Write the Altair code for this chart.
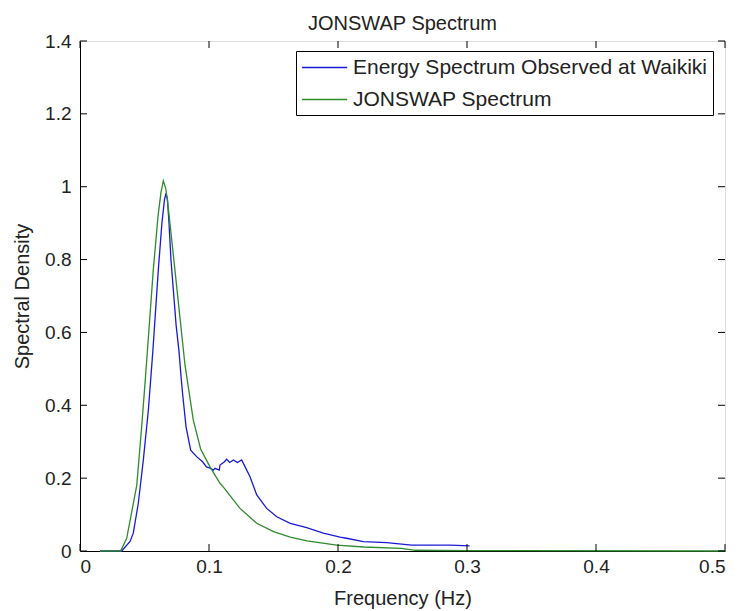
import altair as alt
import pandas as pd

# Observed spectrum at Waikiki (blue)
obs_f = [0.0155, 0.0323, 0.0388, 0.0413, 0.0452, 0.0491, 0.053, 0.0565, 0.0607, 0.0635, 0.0655,
         0.0667, 0.0678, 0.069, 0.0705, 0.0745, 0.0767, 0.0783, 0.0795, 0.0822, 0.0858, 0.0904, 0.095,
         0.098, 0.1005, 0.1034, 0.1047, 0.108, 0.1085, 0.112, 0.1137, 0.116, 0.1189, 0.122,
         0.1253, 0.128, 0.1318, 0.137, 0.1447, 0.1525, 0.163, 0.1757, 0.1886, 0.2016, 0.2067,
         0.2196, 0.2377, 0.257, 0.287, 0.302]
obs_v = [0.0, 0.0, 0.026, 0.049, 0.131, 0.25, 0.387, 0.55, 0.771, 0.90, 0.965,
         0.982, 0.965, 0.90, 0.80, 0.62, 0.55, 0.48, 0.433, 0.341, 0.277, 0.259, 0.245,
         0.231, 0.228, 0.222, 0.227, 0.222, 0.236, 0.245, 0.252, 0.243, 0.25, 0.243,
         0.25, 0.231, 0.204, 0.154, 0.117, 0.094, 0.076, 0.064, 0.049, 0.038, 0.035,
         0.026, 0.023, 0.016, 0.016, 0.014]

# JONSWAP model spectrum (green)
jon_f = [0.0155, 0.0315, 0.0362, 0.0413, 0.044, 0.0478, 0.0505, 0.0535, 0.0568, 0.0605, 0.0628,
         0.0646, 0.0665, 0.0685, 0.0736, 0.0775, 0.0814, 0.0878, 0.0935, 0.1008, 0.1085, 0.111,
         0.124, 0.137, 0.150, 0.163, 0.176, 0.199, 0.22, 0.249, 0.26, 0.3, 0.5]
jon_v = [0.0, 0.0, 0.035, 0.13, 0.18, 0.341, 0.465, 0.61, 0.771, 0.92, 0.985,
         1.016, 0.995, 0.94, 0.771, 0.64, 0.51, 0.36, 0.28, 0.231, 0.186, 0.176,
         0.117, 0.076, 0.053, 0.038, 0.028, 0.016, 0.011, 0.007, 0.002, 0.001, 0.0]

S_OBS = "Energy Spectrum Observed at Waikiki"
S_JON = "JONSWAP Spectrum"

x_ticks = [0, 0.1, 0.2, 0.3, 0.4, 0.5]
y_ticks = [0, 0.2, 0.4, 0.6, 0.8, 1.0, 1.2, 1.4]

rows = []
for i, (f, v) in enumerate(zip(obs_f, obs_v)):
    rows.append({"f": f, "v": v, "series": S_OBS, "i": i})
for i, (f, v) in enumerate(zip(jon_f, jon_v)):
    rows.append({"f": f, "v": v, "series": S_JON, "i": i})
df = pd.DataFrame(rows)

W, H = 645, 510
FONT = "Liberation Sans"
TXT = "#222222"

xscale = alt.Scale(domain=[0, 0.5], nice=False, zero=False)
yscale = alt.Scale(domain=[0, 1.4], nice=False, zero=False)

lines = alt.Chart(df).mark_line(strokeWidth=1.3).encode(
    x=alt.X("f:Q", scale=xscale,
            axis=alt.Axis(title="Frequency (Hz)", values=x_ticks, format="~g",
                          ticks=False, grid=False, domainColor="black",
                          labelFontSize=19, titleFontSize=20, labelPadding=6,
                          titlePadding=12, titleFontWeight="normal",
                          labelColor=TXT, titleColor=TXT, labelFont=FONT, titleFont=FONT)),
    y=alt.Y("v:Q", scale=yscale,
            axis=alt.Axis(title="Spectral Density", values=y_ticks, format="~g",
                          ticks=False, grid=False, domainColor="black",
                          labelFontSize=19, titleFontSize=20, labelPadding=9,
                          titlePadding=12, titleFontWeight="normal",
                          labelColor=TXT, titleColor=TXT, labelFont=FONT, titleFont=FONT)),
    color=alt.Color("series:N",
                    scale=alt.Scale(domain=[S_OBS, S_JON], range=["#1a1ad6", "#2e8b2e"]),
                    legend=alt.Legend(title=None, orient="none", legendX=216, legendY=10,
                                      symbolType="M-1,0H3.3", symbolSize=441,
                                      symbolStrokeWidth=1.3,
                                      labelFontSize=21, labelFont=FONT, labelColor=TXT,
                                      fillColor="white", strokeColor="black", padding=5,
                                      rowPadding=10, labelOffset=29, labelLimit=600)),
    order="i:Q",
)

xt = pd.DataFrame({"t": x_ticks})
yt = pd.DataFrame({"t": y_ticks})
TL = 7
xb = alt.Chart(xt).mark_rule(color="black").encode(
    x=alt.X("t:Q", scale=xscale), y=alt.value(H), y2=alt.value(H - TL))
xtop = alt.Chart(xt).mark_rule(color="black").encode(
    x=alt.X("t:Q", scale=xscale), y=alt.value(0), y2=alt.value(TL))
yl = alt.Chart(yt).mark_rule(color="black").encode(
    y=alt.Y("t:Q", scale=yscale), x=alt.value(0), x2=alt.value(TL))
yr = alt.Chart(yt).mark_rule(color="black").encode(
    y=alt.Y("t:Q", scale=yscale), x=alt.value(W), x2=alt.value(W - TL))

chart = alt.layer(lines, xb, xtop, yl, yr).properties(
    width=W, height=H,
    autosize=alt.AutoSizeParams(type="none"),
    padding={"left": 80, "top": 41, "right": 15, "bottom": 60},
    title=alt.TitleParams("JONSWAP Spectrum", fontSize=20, fontWeight="normal",
                          font=FONT, color=TXT, offset=-2),
).configure_view(stroke="black", strokeWidth=1).configure(background="white")

chart.save("out.html", embed_options={"renderer": "svg", "actions": False})
